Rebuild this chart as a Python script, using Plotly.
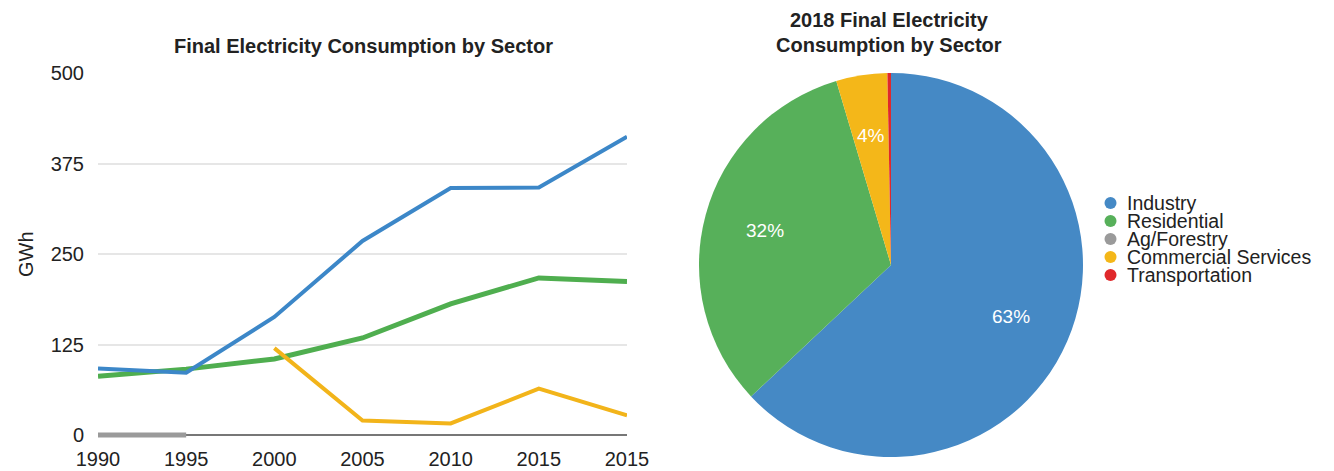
import math
import plotly.graph_objects as go

# ---- line chart data (GWh) ----
years = ["1990", "1995", "2000", "2005", "2010", "2015", "2015"]
industry = [92, 86, 163, 268, 341, 342, 412]
residential = [81, 91, 105, 134, 181, 217, 212]
ag_forestry = [0, 0, None, None, None, None, None]
commercial = [None, None, 120, 20, 16, 64, 27]
y_ticks = [0, 125, 250, 375, 500]

# ---- 2018 pie data (% share) ----
sectors = ["Industry", "Residential", "Ag/Forestry", "Commercial Services", "Transportation"]
share_2018 = [63.0, 32.4, 0.0, 4.3, 0.3]

line_colors = {"Industry": "#3c87c8", "Residential": "#4fae4f", "Ag/Forestry": "#9a9a9a",
               "Commercial Services": "#f2b41a"}
pie_colors = ["#4589c5", "#57b05a", "#9a9a9a", "#f4b719", "#e0282b"]

W, H = 1334, 471
FONT = "Liberation Sans, Arial, sans-serif"
TXT = "#222222"


def px(x):
    return x / W


def py(y):
    return 1 - y / H


xpos = list(range(len(years)))
fig = go.Figure()

fig.add_trace(go.Scatter(x=xpos, y=ag_forestry, mode="lines", name="Ag/Forestry",
                         line=dict(color=line_colors["Ag/Forestry"], width=5)))
fig.add_trace(go.Scatter(x=xpos, y=residential, mode="lines", name="Residential",
                         line=dict(color=line_colors["Residential"], width=5)))
fig.add_trace(go.Scatter(x=xpos, y=commercial, mode="lines", name="Commercial Services",
                         line=dict(color=line_colors["Commercial Services"], width=4)))
fig.add_trace(go.Scatter(x=xpos, y=industry, mode="lines", name="Industry",
                         line=dict(color=line_colors["Industry"], width=4)))

# pie geometry (pixels)
PCX, PCY, PR = 891, 265, 192
fig.add_trace(go.Pie(labels=sectors, values=share_2018, sort=False, direction="clockwise",
                     rotation=0, marker=dict(colors=pie_colors, line=dict(width=0)),
                     textinfo="none",
                     domain=dict(x=[px(PCX - PR), px(PCX + PR)], y=[py(PCY + PR), py(PCY - PR)]),
                     showlegend=False, hoverinfo="label+percent"))

# y range: small pad below zero so the zero-level lines are not clipped
y_lo, y_hi = -4, 500
ppu = (435 - 73) / 500
bottom_px = 435 + (0 - y_lo) * ppu

fig.update_layout(
    width=W, height=H, autosize=False,
    margin=dict(l=0, r=0, t=0, b=0),
    paper_bgcolor="white", plot_bgcolor="white",
    showlegend=False,
    font=dict(family=FONT, size=20, color=TXT),
    xaxis=dict(domain=[px(98), px(627)], range=[0, len(years) - 1], automargin=False,
               tickmode="array", tickvals=xpos, ticktext=years,
               showgrid=False, zeroline=False, showline=False, ticks="",
               ticklabelstandoff=7, tickfont=dict(size=20, color=TXT)),
    yaxis=dict(domain=[py(bottom_px), py(73)], range=[y_lo, y_hi], automargin=False,
               tickmode="array", tickvals=y_ticks,
               showgrid=True, gridcolor="#e6e6e6", gridwidth=1.5,
               zeroline=True, zerolinecolor="#777777", zerolinewidth=2,
               ticks="", ticklabelstandoff=13, tickfont=dict(size=20, color=TXT)),
)

# axis title
fig.add_annotation(x=px(26), y=py(254), xref="paper", yref="paper", showarrow=False,
                   text="GWh", textangle=-90, font=dict(size=20, color=TXT),
                   xanchor="center", yanchor="middle")

# chart titles
fig.add_annotation(x=px(364), y=py(46), xref="paper", yref="paper", showarrow=False,
                   text="<b>Final Electricity Consumption by Sector</b>",
                   font=dict(size=20, color=TXT), xanchor="center", yanchor="middle")
fig.add_annotation(x=px(889), y=py(20), xref="paper", yref="paper", showarrow=False,
                   text="<b>2018 Final Electricity</b>",
                   font=dict(size=20, color=TXT), xanchor="center", yanchor="middle")
fig.add_annotation(x=px(889), y=py(45), xref="paper", yref="paper", showarrow=False,
                   text="<b>Consumption by Sector</b>",
                   font=dict(size=20, color=TXT), xanchor="center", yanchor="middle")

# percentage labels at each slice's mid-angle
total = sum(share_2018)
cum = 0.0
for v in share_2018:
    mid = (cum + v / 2) / total * 2 * math.pi
    cum += v
    if v / total < 0.01:
        continue
    lx = PCX + 0.68 * PR * math.sin(mid)
    ly = PCY - 0.68 * PR * math.cos(mid)
    fig.add_annotation(x=px(lx), y=py(ly), xref="paper", yref="paper", showarrow=False,
                       text=f"{v / total * 100:.0f}%", font=dict(size=19, color="white"),
                       xanchor="center", yanchor="middle")

# compact legend for the pie
for i, (name, col) in enumerate(zip(sectors, pie_colors)):
    cy = 203 + 18 * i
    fig.add_shape(type="circle", xref="paper", yref="paper",
                  x0=px(1104.5), x1=px(1116.5), y0=py(cy + 6), y1=py(cy - 6),
                  fillcolor=col, line=dict(width=0))
    fig.add_annotation(x=px(1125), y=py(cy), xref="paper", yref="paper", showarrow=False,
                       text=name, xanchor="left", yanchor="middle",
                       font=dict(size=19.5, color=TXT))

fig.write_html("out.html")
